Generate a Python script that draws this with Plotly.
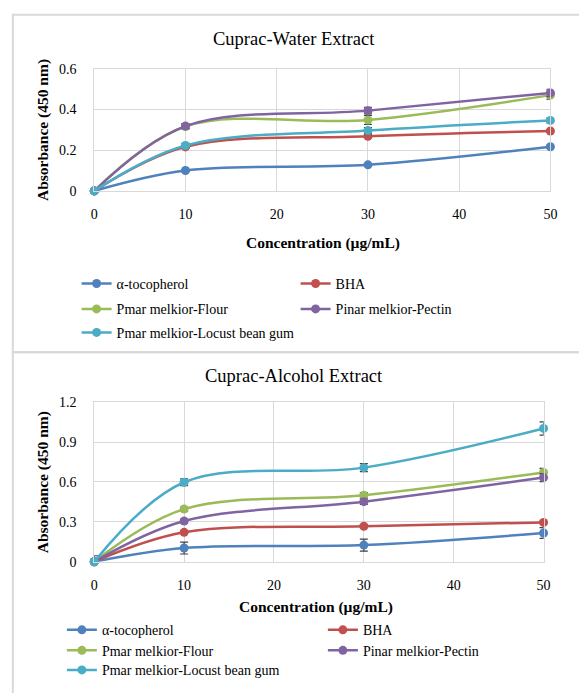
import plotly.graph_objects as go

W, H = 579, 693

concentration = [0, 10, 30, 50]
series_names = ["α-tocopherol", "BHA", "Pmar melkior-Flour", "Pinar melkior-Pectin", "Pmar melkior-Locust bean gum"]
colors = ["#4F81BD", "#C0504D", "#9BBB59", "#8064A2", "#4BACC6"]

# Cuprac-Water Extract
water_toco = [0.0, 0.100, 0.128, 0.217]
water_bha = [0.0, 0.216, 0.268, 0.294]
water_flour = [0.0, 0.316, 0.348, 0.470]
water_pectin = [0.0, 0.318, 0.394, 0.481]
water_lbg = [0.0, 0.223, 0.296, 0.346]
water_err_toco = [0.0, 0.005, 0.006, 0.008]
water_err_bha = [0.0, 0.006, 0.008, 0.008]
water_err_flour = [0.006, 0.012, 0.022, 0.020]
water_err_pectin = [0.006, 0.012, 0.016, 0.018]
water_err_lbg = [0.006, 0.010, 0.015, 0.012]

# Cuprac-Alcohol Extract
alc_toco = [0.0, 0.103, 0.125, 0.216]
alc_bha = [0.0, 0.221, 0.267, 0.296]
alc_flour = [0.0, 0.396, 0.500, 0.672]
alc_pectin = [0.0, 0.306, 0.452, 0.633]
alc_lbg = [0.0, 0.598, 0.708, 1.003]
alc_err_toco = [0.045, 0.045, 0.045, 0.040]
alc_err_bha = [0.0, 0.010, 0.010, 0.010]
alc_err_flour = [0.0, 0.015, 0.020, 0.030]
alc_err_pectin = [0.0, 0.015, 0.020, 0.030]
alc_err_lbg = [0.0, 0.025, 0.030, 0.050]

x_ticks = [0, 10, 20, 30, 40, 50]
water_yticks = [0, 0.2, 0.4, 0.6]
water_yticklabels = ["0", "0.2", "0.4", "0.6"]
alc_yticks = [0, 0.3, 0.6, 0.9, 1.2]
alc_yticklabels = ["0", "0.3", "0.6", "0.9", "1.2"]

FONT = "Liberation Serif"
GRID = "#D9D9D9"


def px(x):
    return x / W


def py(y):
    return 1 - y / H


fig = go.Figure()

water = [water_toco, water_bha, water_flour, water_pectin, water_lbg]
water_err = [water_err_toco, water_err_bha, water_err_flour, water_err_pectin, water_err_lbg]
alc = [alc_toco, alc_bha, alc_flour, alc_pectin, alc_lbg]
alc_err = [alc_err_toco, alc_err_bha, alc_err_flour, alc_err_pectin, alc_err_lbg]

top_legends = ["legend", "legend", "legend2", "legend2", "legend3"]
bot_legends = ["legend4", "legend4", "legend5", "legend5", "legend6"]
# width reserved for each legend entry's text (first column sets the column spacing)
top_lw = [174, 170, 174, 170, 200]
bot_lw = [216, 170, 216, 170, 200]

for i in range(5):
    fig.add_trace(go.Scatter(
        x=concentration, y=water[i], name=series_names[i],
        mode="lines+markers", line=dict(color=colors[i], width=2.5, shape="spline"),
        marker=dict(color=colors[i], size=9),
        error_y=dict(type="data", array=water_err[i], color="#404040", thickness=1.2, width=4),
        xaxis="x", yaxis="y", legend=top_legends[i], legendwidth=top_lw[i], cliponaxis=False,
    ))
for i in range(5):
    fig.add_trace(go.Scatter(
        x=concentration, y=alc[i], name=series_names[i],
        mode="lines+markers", line=dict(color=colors[i], width=2.5, shape="spline"),
        marker=dict(color=colors[i], size=9),
        error_y=dict(type="data", array=alc_err[i], color="#404040", thickness=1.2, width=4),
        xaxis="x2", yaxis="y2", legend=bot_legends[i], legendwidth=bot_lw[i], cliponaxis=False,
    ))

axis_common = dict(
    showgrid=True, gridcolor=GRID, gridwidth=1,
    showline=True, linecolor=GRID, linewidth=1, mirror=True,
    zeroline=False, ticks="", tickfont=dict(family=FONT, size=14, color="#000"),
)

fig.update_layout(
    width=W, height=H,
    margin=dict(l=0, r=0, t=0, b=0),
    paper_bgcolor="white", plot_bgcolor="white",
    font=dict(family=FONT, color="#000"),
    xaxis=dict(domain=[px(92), px(557)], range=[0, 50], tickvals=x_ticks, anchor="y",
               ticklabelstandoff=10, **axis_common),
    yaxis=dict(domain=[py(188), py(63)], range=[0, 0.6], tickvals=water_yticks,
               ticktext=water_yticklabels, anchor="x", ticklabelstandoff=14, **axis_common),
    xaxis2=dict(domain=[px(92), px(550)], range=[0, 50], tickvals=x_ticks, anchor="y2",
                ticklabelstandoff=10, **axis_common),
    yaxis2=dict(domain=[py(567), py(404)], range=[0, 1.2], tickvals=alc_yticks,
                ticktext=alc_yticklabels, anchor="x2", ticklabelstandoff=14, **axis_common),
    showlegend=True,
)

leg_font = dict(family=FONT, size=14, color="#000")


def legend_cfg(xpix, ypix):
    return dict(orientation="h", x=px(xpix), y=py(ypix), xanchor="left", yanchor="middle",
                font=leg_font, bgcolor="rgba(0,0,0,0)", borderwidth=0, tracegroupgap=0,
                itemsizing="trace")


fig.update_layout(
    legend=legend_cfg(74, 283),
    legend2=legend_cfg(74, 309),
    legend3=legend_cfg(74, 333),
    legend4=legend_cfg(59, 637),
    legend5=legend_cfg(59, 658),
    legend6=legend_cfg(59, 678),
)

# panel frames
fig.add_shape(type="rect", xref="paper", yref="paper", x0=px(9), x1=px(620), y0=py(353), y1=py(8),
              line=dict(color=GRID, width=2), layer="below")
fig.add_shape(type="rect", xref="paper", yref="paper", x0=px(9), x1=px(620), y0=py(720), y1=py(353),
              line=dict(color=GRID, width=2), layer="below")

annotations = [
    dict(text="Cuprac-Water Extract", x=px(296), y=py(33), size=18.5),
    dict(text="Cuprac-Alcohol Extract", x=px(296), y=py(377), size=18.5),
    dict(text="<b>Concentration (µg/mL)</b>", x=px(325), y=py(241), size=15.5),
    dict(text="<b>Concentration (µg/mL)</b>", x=px(318), y=py(613), size=15.5),
]
for a in annotations:
    fig.add_annotation(text=a["text"], x=a["x"], y=a["y"], xref="paper", yref="paper",
                       xanchor="center", yanchor="middle", showarrow=False,
                       font=dict(family=FONT, size=a["size"], color="#000"))
for ycen in (125.5, 485.5):
    fig.add_annotation(text="<b>Absorbance (450 nm)</b>", x=px(40), y=py(ycen), xref="paper", yref="paper",
                       xanchor="center", yanchor="middle", showarrow=False, textangle=-90,
                       font=dict(family=FONT, size=15.5, color="#000"))

fig.write_html("out.html")
